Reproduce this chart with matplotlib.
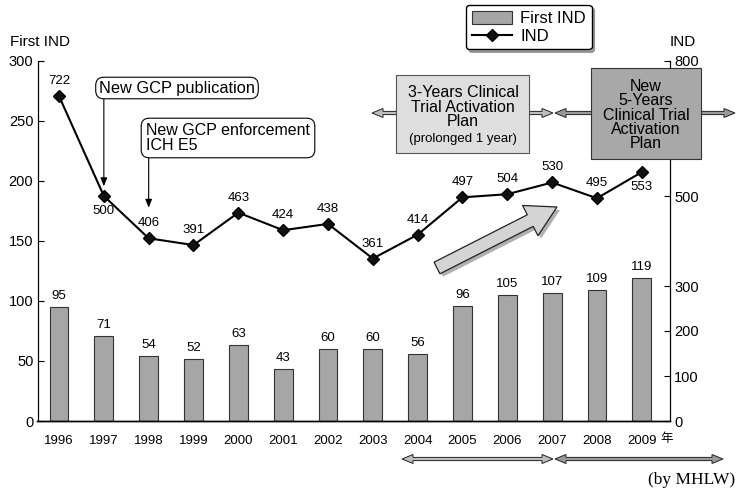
import numpy as np
import matplotlib
matplotlib.use("Agg")
import matplotlib.pyplot as plt
from matplotlib.patches import Polygon, Rectangle, FancyArrow, Patch
from matplotlib.lines import Line2D
from matplotlib.transforms import Affine2D, blended_transform_factory

plt.rcParams['font.family'] = ['Liberation Sans', 'DejaVu Sans']

# data
years = [1996, 1997, 1998, 1999, 2000, 2001, 2002, 2003, 2004, 2005, 2006, 2007, 2008, 2009]
first_ind = [95, 71, 54, 52, 63, 43, 60, 60, 56, 96, 105, 107, 109, 119]
ind = [722, 500, 406, 391, 463, 424, 438, 361, 414, 497, 504, 530, 495, 553]
ind_label_below = [1997, 2009]
left_ticks = [0, 50, 100, 150, 200, 250, 300]
right_ticks = [0, 100, 200, 300, 500, 800]

W, H = 736, 494
fig = plt.figure(figsize=(W / 100, H / 100), dpi=100)
# pixel coords, origin top-left
px = Affine2D().scale(1 / W, -1 / H).translate(0, 1) + fig.transFigure

ax = fig.add_axes([37.5 / W, (H - 421) / H, (670 - 37.5) / W, (421 - 61) / H])
ax2 = ax.twinx()

bar_fc = '#a6a6a6'
ax.bar(years, first_ind, width=0.42, color=bar_fc, edgecolor='#333333', linewidth=0.8, zorder=2)
for y, v in zip(years, first_ind):
    ax.annotate(str(v), (y, v), xytext=(0, 11), textcoords='offset pixels',
                ha='center', va='center', fontsize=9.5)

ax2.plot(years, ind, color='black', lw=1.5, marker='D', ms=6.5, mfc='#111111', mec='black', zorder=5)
for y, v in zip(years, ind):
    dy = -15 if y in ind_label_below else 15
    ax2.annotate(str(v), (y, v), xytext=(0, dy), textcoords='offset pixels',
                 ha='center', va='center', fontsize=9.5)

ax.set_xlim(1995.52, 2009.63)
ax.set_ylim(0, 300)
ax2.set_ylim(0, 800)
ax.set_xticks(years)
ax.set_xticklabels([str(y) for y in years], fontsize=9.5)
ax.tick_params(axis='x', length=0, pad=10)
ax.set_yticks(left_ticks)
ax.tick_params(axis='y', direction='in', length=4, labelsize=10.5, pad=3, width=0.8)
ax2.set_yticks(right_ticks)
ax2.tick_params(axis='y', direction='in', length=4, labelsize=10.5, pad=3, width=0.8)

for a in (ax, ax2):
    a.spines['top'].set_visible(False)
    a.spines['left'].set_linewidth(0.8)
    a.spines['right'].set_linewidth(0.8)
    a.spines['bottom'].set_linewidth(1.0)
    a.patch.set_visible(False)

fig.text(10 / W, 1 - 42 / H, 'First IND', fontsize=11, va='center', ha='left')
fig.text(683 / W, 1 - 42 / H, 'IND', fontsize=11, va='center', ha='center')
fig.text(667 / W, 1 - 438 / H, '年', fontsize=9, va='center', ha='center',
         family=['Noto Sans CJK JP', 'DejaVu Sans'])
fig.text(735 / W, 1 - 480 / H, '(by MHLW)', fontsize=12.5, va='center', ha='right',
         family='Liberation Serif')

# legend
handles = [Patch(facecolor=bar_fc, edgecolor='#333333', lw=0.8),
           Line2D([], [], color='black', lw=1.5, marker='D', ms=6, mfc='#111111')]
fig.legend(handles, ['First IND', 'IND'], loc='upper left',
           bbox_to_anchor=(466 / W, 1 - 5 / H), borderaxespad=0, fontsize=12, frameon=True,
           fancybox=True, shadow=True, edgecolor='black', framealpha=1, handlelength=2.4,
           handleheight=0.8, handletextpad=0.5, borderpad=0.35, labelspacing=0.15)

# GCP annotations
ann_y = blended_transform_factory(ax2.transData, px)
ax2.annotate('', xy=(1997, 500), xycoords='data', xytext=(1997, 97), textcoords=ann_y,
             arrowprops=dict(arrowstyle='-|>,head_length=0.5,head_width=0.2', lw=0.8,
                             color='black', shrinkA=0, shrinkB=7))
ax2.annotate('', xy=(1998, 406), xycoords='data', xytext=(1998, 156), textcoords=ann_y,
             arrowprops=dict(arrowstyle='-|>,head_length=0.5,head_width=0.2', lw=0.8,
                             color='black', shrinkA=0, shrinkB=22))
fig.text(99 / W, 1 - 88 / H, 'New GCP publication', fontsize=11.8, va='center', ha='left',
         bbox=dict(boxstyle='round,pad=0.2,rounding_size=0.5', fc='white', ec='black', lw=0.8))
fig.text(146 / W, 1 - 138 / H, 'New GCP enforcement\nICH E5', fontsize=11.5, va='center', ha='left',
         linespacing=1.0,
         bbox=dict(boxstyle='round,pad=0.3,rounding_size=0.5', fc='white', ec='black', lw=0.8))


def darrow(x0, x1, y, fc):
    hl, hw, sw = 11, 4.5, 1.6
    pts = [(x0, y), (x0 + hl, y - hw), (x0 + hl, y - sw), (x1 - hl, y - sw), (x1 - hl, y - hw),
           (x1, y), (x1 - hl, y + hw), (x1 - hl, y + sw), (x0 + hl, y + sw), (x0 + hl, y + hw)]
    fig.patches.append(Polygon(pts, closed=True, transform=px, fc=fc, ec='#222222', lw=0.7))


darrow(372, 553, 113, '#bdbdbd')
darrow(555, 735, 113, '#9a9a9a')
darrow(402, 553, 459, '#bdbdbd')
darrow(555, 723, 459, '#9a9a9a')

# plan boxes
fig.patches.append(Rectangle((396, 75), 133, 78, transform=px, fc='#dedede', ec='#555555', lw=0.8))
fig.text(463 / W, 1 - 107 / H, '3-Years Clinical\nTrial Activation\nPlan', fontsize=11.5,
         ha='center', va='center', linespacing=0.92)
fig.text(463 / W, 1 - 139 / H, '(prolonged 1 year)', fontsize=9.5, ha='center', va='center')
fig.patches.append(Rectangle((591, 68), 110, 91, transform=px, fc='#a8a8a8', ec='#333333', lw=0.8))
fig.text(646 / W, 1 - 115 / H, 'New\n5-Years\nClinical Trial\nActivation\nPlan', fontsize=11.5,
         ha='center', va='center', linespacing=0.95)

# big trend arrow with shadow
for dx, fc, ec in ((3, '#b0b0b0', 'none'), (0, '#d4d4d4', '#222222')):
    fig.patches.append(FancyArrow(437 + dx, 268 + dx, 120, -61, width=13, head_width=34,
                                  head_length=30, length_includes_head=True, transform=px,
                                  fc=fc, ec=ec, lw=0.9))

fig.savefig('out.png', dpi=100)
